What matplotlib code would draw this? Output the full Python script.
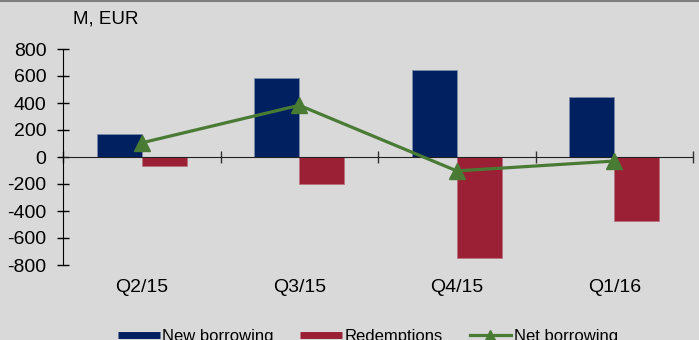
import matplotlib
matplotlib.use("Agg")
import matplotlib.pyplot as plt
from matplotlib.lines import Line2D
import numpy as np

plt.rcParams['font.family'] = ['Liberation Sans', 'DejaVu Sans']

quarters = ["Q2/15", "Q3/15", "Q4/15", "Q1/16"]
new_borrowing = [170, 583, 647, 442]
redemptions = [-65, -200, -750, -472]
net_borrowing = [105, 383, -103, -30]
y_ticks = [-800, -600, -400, -200, 0, 200, 400, 600, 800]

navy = "#00205f"
crimson = "#9c2035"
green = "#4a7b35"
bg = "#d9d9d9"

fig = plt.figure(figsize=(6.99, 3.40), dpi=100, facecolor=bg)
ax = fig.add_axes([63/699, 1-265/340, (693-63)/699, (265-49)/340])
ax.set_facecolor(bg)

x = np.arange(len(quarters)) + 0.5
w = 0.285
ax.bar(x - w/2, new_borrowing, width=w, color=navy, edgecolor="#7f8cad", linewidth=0.5, zorder=2)
ax.bar(x + w/2, redemptions, width=w, color=crimson, edgecolor="#b7707c", linewidth=0.5, zorder=2)
ax.plot(x, net_borrowing, color=green, lw=2.3, marker="^", markersize=12, zorder=4)

ax.set_xlim(0, len(quarters))
ax.set_ylim(-800, 800)
ax.set_yticks(y_ticks)
ax.set_yticklabels([str(v) for v in y_ticks], fontsize=14)
ax.tick_params(axis='y', direction='inout', length=8, width=1, pad=8, color='black')

for s in ['top', 'right']:
    ax.spines[s].set_visible(False)
ax.spines['bottom'].set_position(('data', 0))
ax.spines['bottom'].set_color('#222222')
ax.spines['left'].set_color('black')

ax.set_xticks(np.arange(len(quarters) + 1))
ax.set_xticklabels([])
ax.tick_params(axis='x', direction='inout', length=8, width=1, color='#333333')

for xi, q in zip(x, quarters):
    ax.annotate(q, xy=(xi, 0), xycoords=('data', 'axes fraction'),
                xytext=(0, -16), textcoords='offset points',
                ha='center', va='center', fontsize=14)

fig.text(73/699, 1-19/340, "M, EUR", fontsize=13.5, ha='left', va='center')

handles = [
    Line2D([], [], color=navy, lw=5, solid_capstyle='butt'),
    Line2D([], [], color=crimson, lw=5, solid_capstyle='butt'),
    Line2D([], [], color=green, lw=2.3, marker='^', markersize=7),
]
fig.legend(handles, ["New borrowing", "Redemptions", "Net borrowing"],
           loc='center', bbox_to_anchor=(368/699, 4/340), ncol=3, frameon=False,
           fontsize=12, handlelength=2.5, handletextpad=0.15, columnspacing=1.6)

fig.add_artist(Line2D([0, 1], [0.997, 0.997], transform=fig.transFigure, color='#808080', lw=1.5))

fig.savefig("out.png", dpi=100, facecolor=bg)
